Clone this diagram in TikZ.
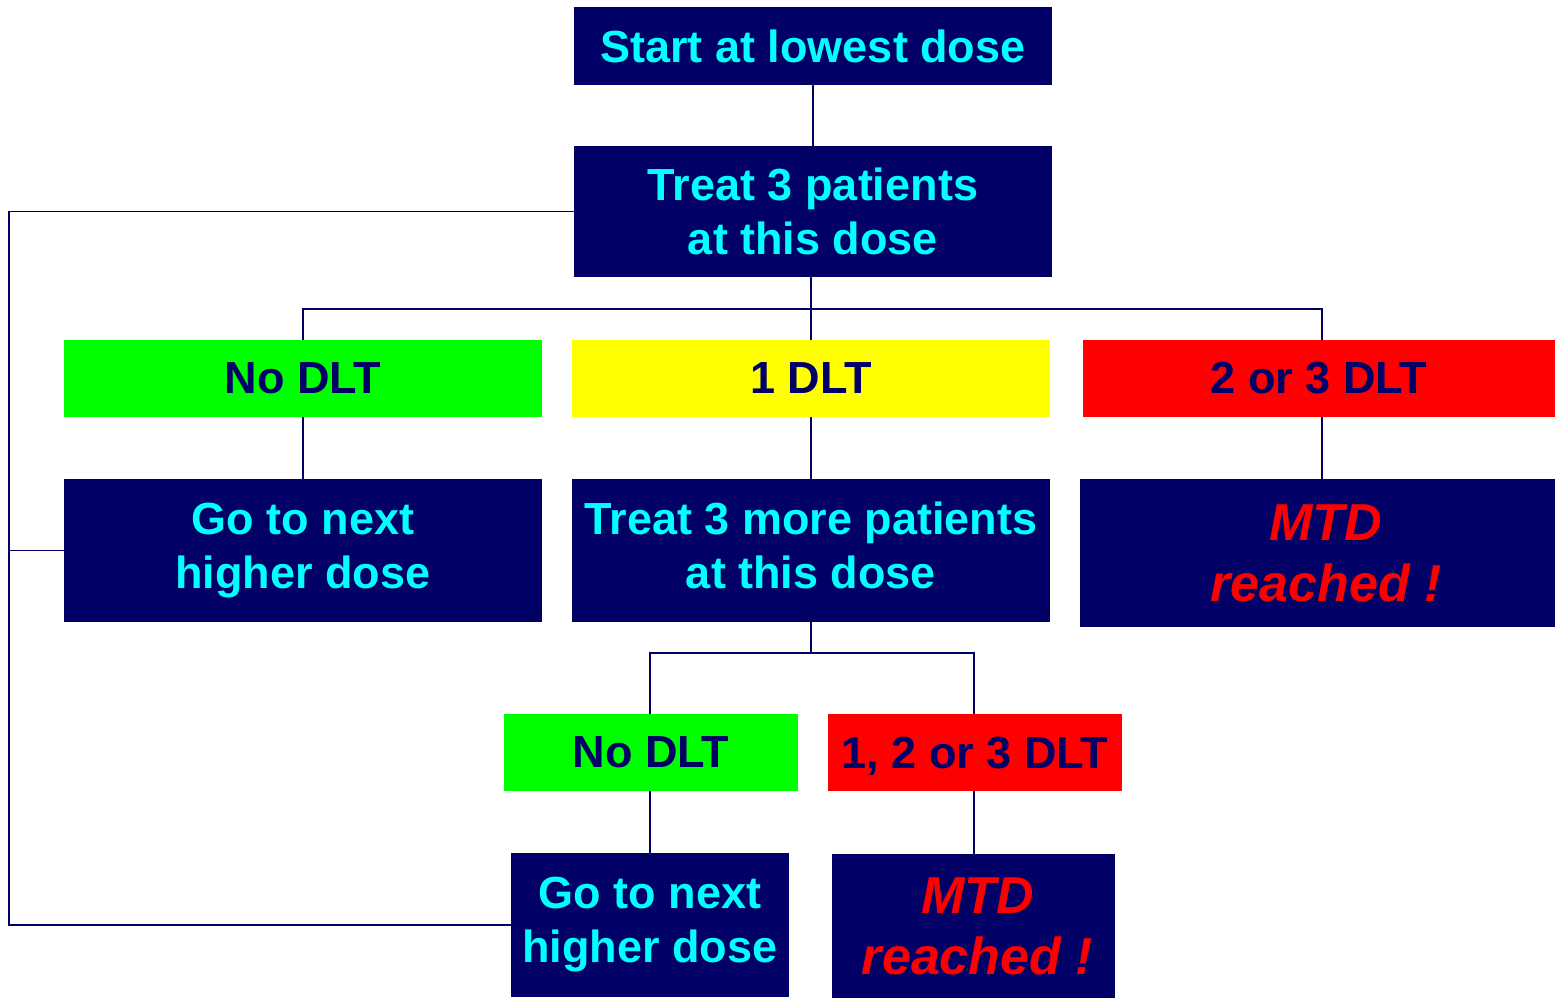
\documentclass[tikz,border=0pt]{standalone}
\usepackage{fontspec}
\setmainfont{Liberation Sans}
\definecolor{navy}{RGB}{0,0,102}
\definecolor{cyantext}{RGB}{0,255,255}
\definecolor{lime}{RGB}{0,255,0}
\definecolor{yel}{RGB}{255,255,0}
\definecolor{rd}{RGB}{255,0,0}
\begin{document}
\begin{tikzpicture}[x=1pt,y=1pt,
  box/.style={inner sep=0pt, align=center, font=\fontsize{45}{54}\selectfont\bfseries},
  navybox/.style={box, fill=navy, text=cyantext},
  mtdbox/.style={box, fill=navy, text=rd, font=\fontsize{52}{61}\selectfont\bfseries\itshape},
  greenbox/.style={box, fill=lime, text=navy},
  yellowbox/.style={box, fill=yel, text=navy},
  redbox/.style={box, fill=rd, text=navy},
  conn/.style={draw=navy, line width=2.5pt},
  loopline/.style={draw=navy, line width=1.5pt}]
\useasboundingbox (0,0) rectangle (1555,-998);
% boxes
\node[navybox, minimum width=478, minimum height=78] (start) at (813,-46) {Start at lowest dose};
\node[navybox, minimum width=478, minimum height=131] (treat) at (813,-211.5) {Treat 3 patients\\at this dose};
\node[greenbox, minimum width=478, minimum height=77] (nodlt1) at (303,-378.5) {No DLT};
\node[yellowbox, minimum width=478, minimum height=77] (onedlt) at (811,-378.5) {1 DLT};
\node[redbox, minimum width=472, minimum height=77] (twothree) at (1319,-378.5) {2 or 3 DLT};
\node[navybox, minimum width=478, minimum height=143] (go1) at (303,-550.5) {Go to next\\higher dose};
\node[navybox, minimum width=478, minimum height=143, text depth=10pt] (more) at (811,-550.5) {Treat 3 more patients\\at this dose};
\node[mtdbox, minimum width=475, minimum height=148] (mtd1) at (1317.5,-553) {\hspace*{16pt}MTD\\\hspace*{17pt}reached !};
\node[greenbox, minimum width=294, minimum height=77] (nodlt2) at (651,-752.5) {No DLT};
\node[redbox, minimum width=294, minimum height=77, text depth=0pt] (red2) at (975,-752.5) {1, 2 or 3 DLT};
\node[navybox, minimum width=278, minimum height=144] (go2) at (650,-925) {Go to next\\higher dose};
\node[mtdbox, minimum width=283, minimum height=144] (mtd2) at (973.5,-926) {\hspace*{8pt}MTD\\\hspace*{8pt}reached !};
% branch points
\coordinate (b1) at (811,-309);
\coordinate (c3) at (1322,-309);
\coordinate (b2) at (811,-653);
\coordinate (c4) at (974,-653);
\coordinate (c5) at (650,-653);
\coordinate (lb) at (9,-925);
% connectors
\draw[conn] (start.south) -- (treat.north);
\draw[conn] (treat.south -| b1) -- (b1);
\draw[conn] (nodlt1.north) |- (b1) -- (c3) -- (twothree.north -| c3);
\draw[conn] (b1) -- (onedlt.north);
\draw[conn] (nodlt1.south) -- (go1.north);
\draw[conn] (onedlt.south) -- (more.north);
\draw[conn] (twothree.south -| c3) -- (mtd1.north -| c3);
\draw[conn] (more.south) -- (b2);
\draw[conn] (nodlt2.north -| c5) -- (c5) -- (c4) -- (red2.north -| c4);
\draw[conn] (nodlt2.south -| c5) -- (go2.north -| c5);
\draw[conn] (red2.south -| c4) -- (mtd2.north -| c4);
% loop back
\draw[loopline] (treat.west) -| (lb) -- (go2.west);
\draw[loopline] (go1.west) -- (go1.west -| lb);
\end{tikzpicture}
\end{document}
